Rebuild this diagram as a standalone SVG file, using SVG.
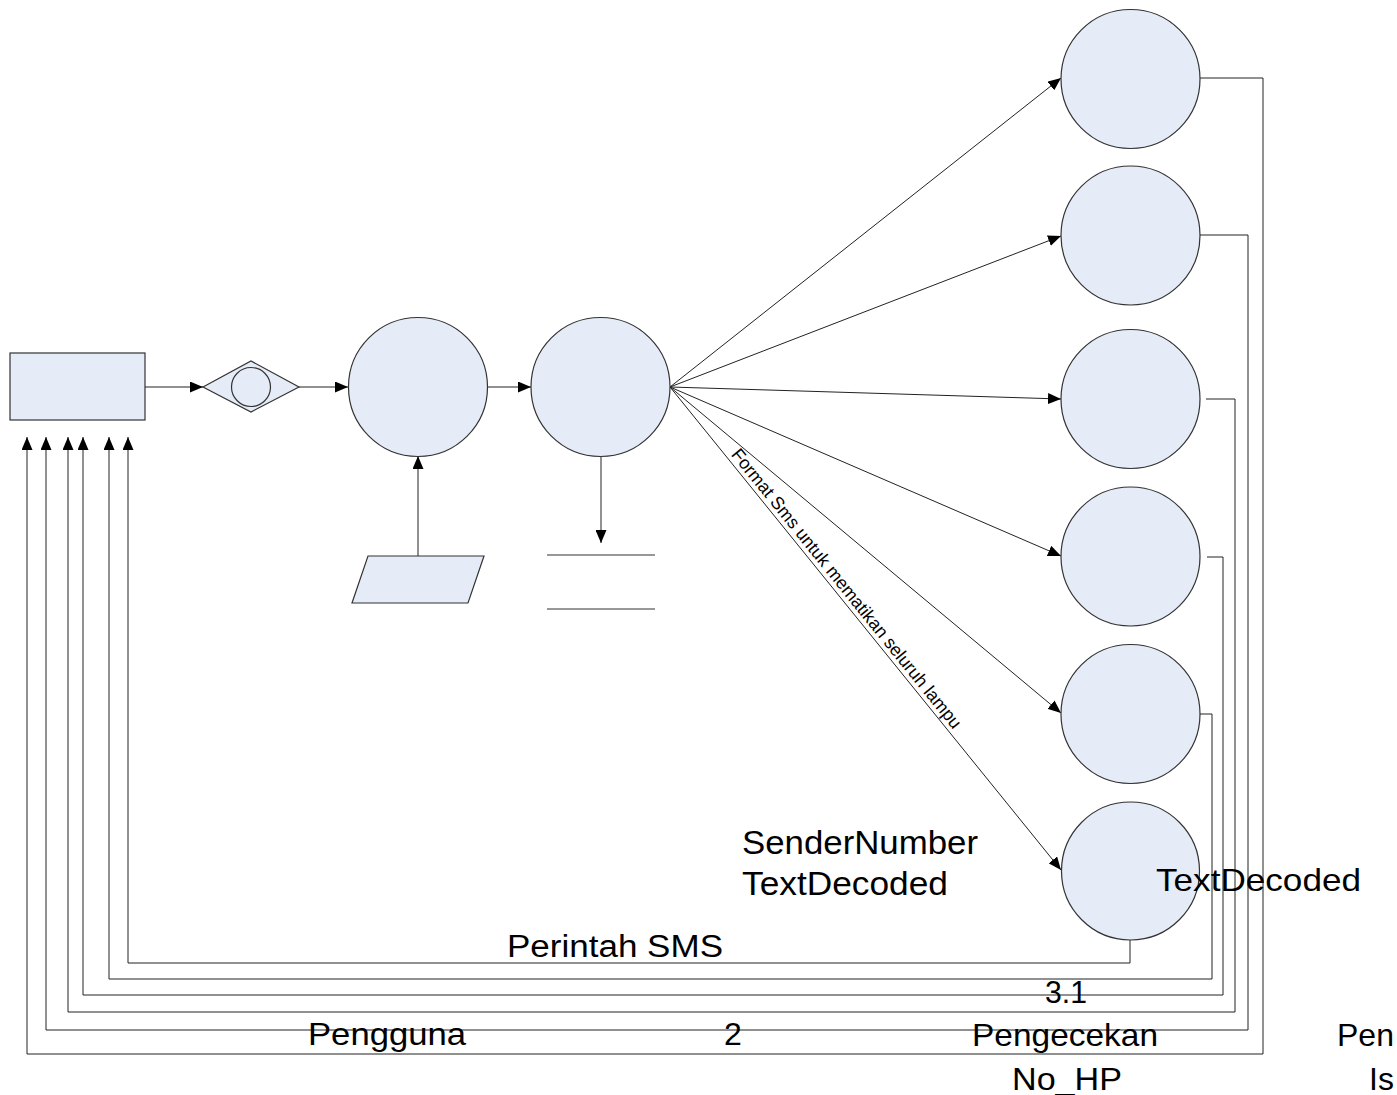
<svg xmlns="http://www.w3.org/2000/svg" width="1397" height="1095" viewBox="0 0 1397 1095">
<style>
.shape{fill:#E6ECF7;stroke:#333;stroke-width:1.2}
.ln{fill:none;stroke:#333;stroke-width:1.2}
.arr{fill:none;stroke:#222;stroke-width:1;marker-end:url(#ah)}
.t{font-family:"Liberation Sans",Arial,sans-serif;fill:#000}
</style>
<defs>
<marker id="ah" markerUnits="userSpaceOnUse" markerWidth="13" markerHeight="11" refX="13" refY="5.5" orient="auto">
<path d="M0,0 L13,5.5 L0,11 z" fill="#000"/>
</marker>
</defs>
<rect width="1397" height="1095" fill="#fff"/>

<g id="connectors">
<line class="arr" x1="145" y1="387" x2="203" y2="387"/>
<line class="arr" x1="299" y1="387" x2="348" y2="387"/>
<line class="arr" x1="488" y1="387" x2="531" y2="387"/>
<line class="arr" x1="418" y1="556" x2="418" y2="456"/>
<line class="arr" x1="601" y1="456" x2="601" y2="543"/>
<line class="arr" x1="670" y1="387" x2="1061" y2="78"/>
<line class="arr" x1="670" y1="387" x2="1061" y2="236"/>
<line class="arr" x1="670" y1="387" x2="1061" y2="399"/>
<line class="arr" x1="670" y1="387" x2="1061" y2="556"/>
<line class="arr" x1="670" y1="387" x2="1061" y2="713"/>
<line class="arr" x1="670" y1="387" x2="1061" y2="870"/>
<path class="arr" d="M1200,78 H1263 V1054 H27 V437"/>
<path class="arr" d="M1200,235 H1248 V1030 H46 V437"/>
<path class="arr" d="M1206,399 H1235 V1012 H68 V437"/>
<path class="arr" d="M1207,557 H1223 V995 H83 V437"/>
<path class="arr" d="M1197,714 H1212 V979 H109 V437"/>
<path class="arr" d="M1130,940 V963 H128 V437"/>
<text class="t" font-size="18" transform="translate(729,456) rotate(51)" y="-2" textLength="354" lengthAdjust="spacingAndGlyphs">Format Sms untuk mematikan seluruh lampu</text>
</g>

<g id="pengguna"><rect class="shape" x="10" y="353" width="135" height="67"/></g>
<g id="sms-gateway">
<polygon class="shape" points="203,387 251,361 299,387 251,412"/>
<circle class="shape" cx="251" cy="387" r="19.5"/>
</g>
<g id="proses-1"><circle class="shape" cx="418" cy="387" r="69.5"/></g>
<g id="proses-2"><circle class="shape" cx="600.5" cy="387" r="69.5"/></g>
<g id="input"><polygon class="shape" points="368,556 484,556 468,603 352,603"/></g>
<g id="datastore">
<line class="ln" x1="547" y1="555" x2="655" y2="555" stroke="#555"/>
<line class="ln" x1="547" y1="609" x2="655" y2="609" stroke="#555"/>
</g>
<g id="p1"><circle class="shape" cx="1130.5" cy="79" r="69.5"/></g>
<g id="p2"><circle class="shape" cx="1130.5" cy="235.5" r="69.5"/></g>
<g id="p3"><circle class="shape" cx="1130.5" cy="399" r="69.5"/></g>
<g id="p4"><circle class="shape" cx="1130.5" cy="556.5" r="69.5"/></g>
<g id="p5"><circle class="shape" cx="1130.5" cy="714" r="69.5"/></g>
<g id="p6"><circle class="shape" cx="1130.5" cy="871" r="69"/></g>

<g id="labels">
<text class="t" x="742" y="854" font-size="33" textLength="236" lengthAdjust="spacingAndGlyphs">SenderNumber</text>
<text class="t" x="742" y="895" font-size="33" textLength="206" lengthAdjust="spacingAndGlyphs">TextDecoded</text>
<text class="t" x="1156" y="891" font-size="32" textLength="205" lengthAdjust="spacingAndGlyphs">TextDecoded</text>
<text class="t" x="507" y="957" font-size="31" textLength="216" lengthAdjust="spacingAndGlyphs">Perintah SMS</text>
<text class="t" x="1045" y="1003" font-size="32" textLength="42" lengthAdjust="spacingAndGlyphs">3.1</text>
<text class="t" x="308" y="1045" font-size="32" textLength="158" lengthAdjust="spacingAndGlyphs">Pengguna</text>
<text class="t" x="724" y="1045" font-size="32">2</text>
<text class="t" x="972" y="1046" font-size="32" textLength="186" lengthAdjust="spacingAndGlyphs">Pengecekan</text>
<text class="t" x="1012" y="1090" font-size="32" textLength="110" lengthAdjust="spacingAndGlyphs">No_HP</text>
<text class="t" x="1337" y="1046" font-size="32">Pen</text>
<text class="t" x="1369" y="1090" font-size="32">Is</text>
</g>
</svg>
